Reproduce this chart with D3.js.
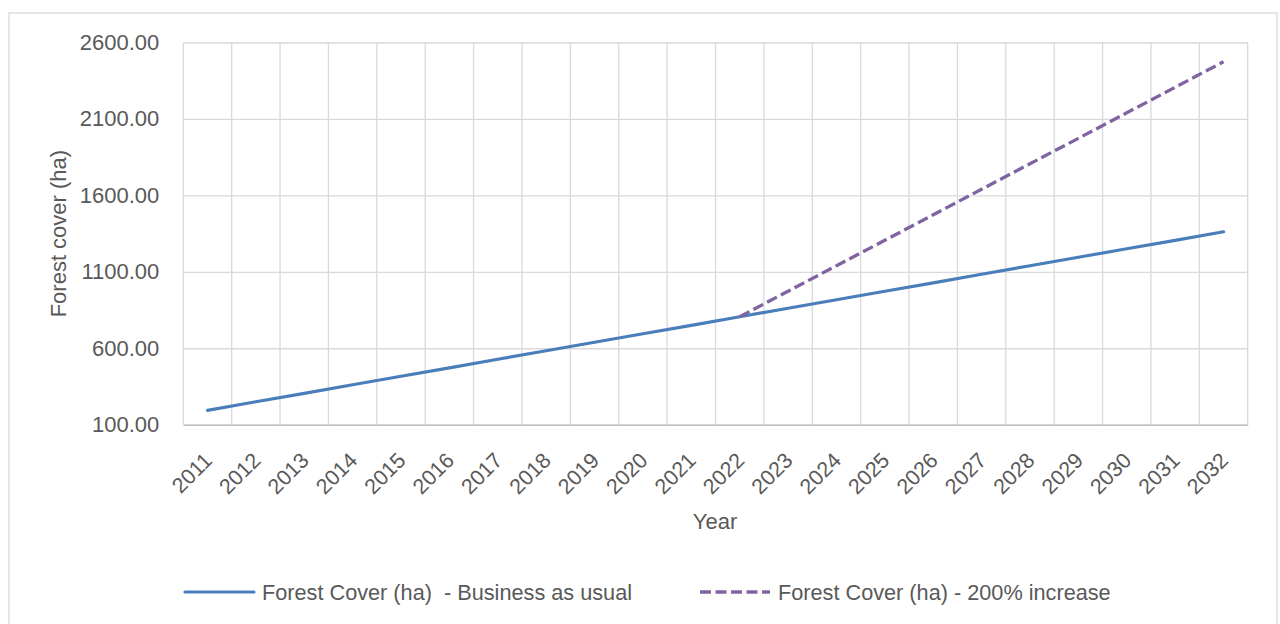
<!DOCTYPE html>
<html>
<head>
<meta charset="utf-8">
<script src="https://cdn.jsdelivr.net/npm/d3@7"></script>
<style>
  html, body { margin: 0; padding: 0; background: #fff; }
  svg { display: block; }
  text { font-family: "Liberation Sans", Arial, sans-serif; fill: #595959; }
</style>
</head>
<body>
<svg id="chart" width="1280" height="624"></svg>
<script>
// Forest cover projections, hectares per year
const years = ["2011","2012","2013","2014","2015","2016","2017","2018","2019","2020","2021",
               "2022","2023","2024","2025","2026","2027","2028","2029","2030","2031","2032"];
const businessAsUsual = [194, 250, 305, 361, 417, 472, 528, 584, 639, 695, 750,
                         806, 862, 917, 973, 1028, 1084, 1140, 1195, 1251, 1306, 1362];
const increase200 = [null, null, null, null, null, null, null, null, null, null, null,
                     806, 973, 1140, 1306, 1473, 1640, 1807, 1973, 2140, 2307, 2474];
const yTicks = [100, 600, 1100, 1600, 2100, 2600];
const seriesNames = ["Forest Cover (ha)  - Business as usual", "Forest Cover (ha) - 200% increase"];

const svg = d3.select("#chart");
const plot = { left: 183.3, right: 1247.7, top: 42.5, bottom: 424.7 };

// outer chart frame
svg.append("rect")
  .attr("x", 9).attr("y", 13).attr("width", 1268).attr("height", 640)
  .attr("fill", "none").attr("stroke", "#d9d9d9").attr("stroke-width", 1.3);

const x = d3.scaleBand().domain(years).range([plot.left, plot.right]).padding(0);
const y = d3.scaleLinear().domain([100, 2600]).range([plot.bottom, plot.top]);
const cx = d => x(d) + x.bandwidth() / 2;

// horizontal gridlines + value labels
const yAxis = svg.append("g")
  .attr("transform", `translate(${plot.left},0)`)
  .call(d3.axisLeft(y).tickValues(yTicks).tickFormat(d3.format(".2f"))
        .tickSize(-(plot.right - plot.left)).tickPadding(24));
yAxis.select(".domain").remove();
yAxis.selectAll(".tick line").attr("stroke", "#d9d9d9").attr("stroke-width", 1.3);
yAxis.selectAll(".tick text").attr("font-size", 22).attr("fill", "#595959")
  .style("font-family", '"Liberation Sans", Arial, sans-serif');

// vertical gridlines at category boundaries
const bounds = years.map(d => x(d)).concat([plot.right]);
svg.append("g").selectAll("line").data(bounds).join("line")
  .attr("x1", d => d).attr("x2", d => d)
  .attr("y1", plot.top).attr("y2", plot.bottom)
  .attr("stroke", "#d9d9d9").attr("stroke-width", 1.3);

// category axis
const xAxis = svg.append("g")
  .attr("transform", `translate(0,${plot.bottom})`)
  .call(d3.axisBottom(x).tickSize(0));
xAxis.select(".domain").attr("stroke", "#bfbfbf").attr("stroke-width", 1.5);
xAxis.selectAll(".tick text")
  .attr("font-size", 21.5)
  .attr("text-anchor", "end")
  .attr("fill", "#595959")
  .style("font-family", '"Liberation Sans", Arial, sans-serif')
  .attr("dy", 0).attr("y", 0)
  .attr("transform", "translate(6,37) rotate(-45)");

// axis titles
svg.append("text")
  .attr("x", 715).attr("y", 529)
  .attr("text-anchor", "middle").attr("font-size", 22)
  .text("Year");
svg.append("text")
  .attr("transform", `translate(66,${(plot.top + plot.bottom) / 2}) rotate(-90)`)
  .attr("text-anchor", "middle").attr("font-size", 22)
  .text("Forest cover (ha)");

// series lines
const line = d3.line()
  .defined(d => d.v != null)
  .x(d => cx(d.year))
  .y(d => y(d.v));

const bauData = years.map((yr, i) => ({ year: yr, v: businessAsUsual[i] }));
const incData = years.map((yr, i) => ({ year: yr, v: increase200[i] }));

svg.append("path")
  .datum(bauData)
  .attr("d", line)
  .attr("fill", "none").attr("stroke", "#4a7ebb").attr("stroke-width", 3.2)
  .attr("stroke-linecap", "round").attr("stroke-linejoin", "round");

svg.append("path")
  .datum(incData)
  .attr("d", line)
  .attr("fill", "none").attr("stroke", "#8064a2").attr("stroke-width", 3.3)
  .attr("stroke-dasharray", "11,4.5")
  .attr("stroke-linejoin", "round");

// legend
const legend = svg.append("g");
legend.append("line")
  .attr("x1", 185).attr("x2", 254).attr("y1", 592).attr("y2", 592)
  .attr("stroke", "#4a7ebb").attr("stroke-width", 3.2).attr("stroke-linecap", "round");
legend.append("text")
  .attr("x", 262).attr("y", 599.5).attr("font-size", 21.7)
  .attr("xml:space", "preserve").style("white-space", "pre")
  .text(seriesNames[0]);
legend.append("line")
  .attr("x1", 700).attr("x2", 770).attr("y1", 592).attr("y2", 592)
  .attr("stroke", "#8064a2").attr("stroke-width", 3.3)
  .attr("stroke-dasharray", "11,4.5");
legend.append("text")
  .attr("x", 778).attr("y", 599.5).attr("font-size", 21.7)
  .attr("xml:space", "preserve").style("white-space", "pre")
  .text(seriesNames[1]);
</script>
</body>
</html>
